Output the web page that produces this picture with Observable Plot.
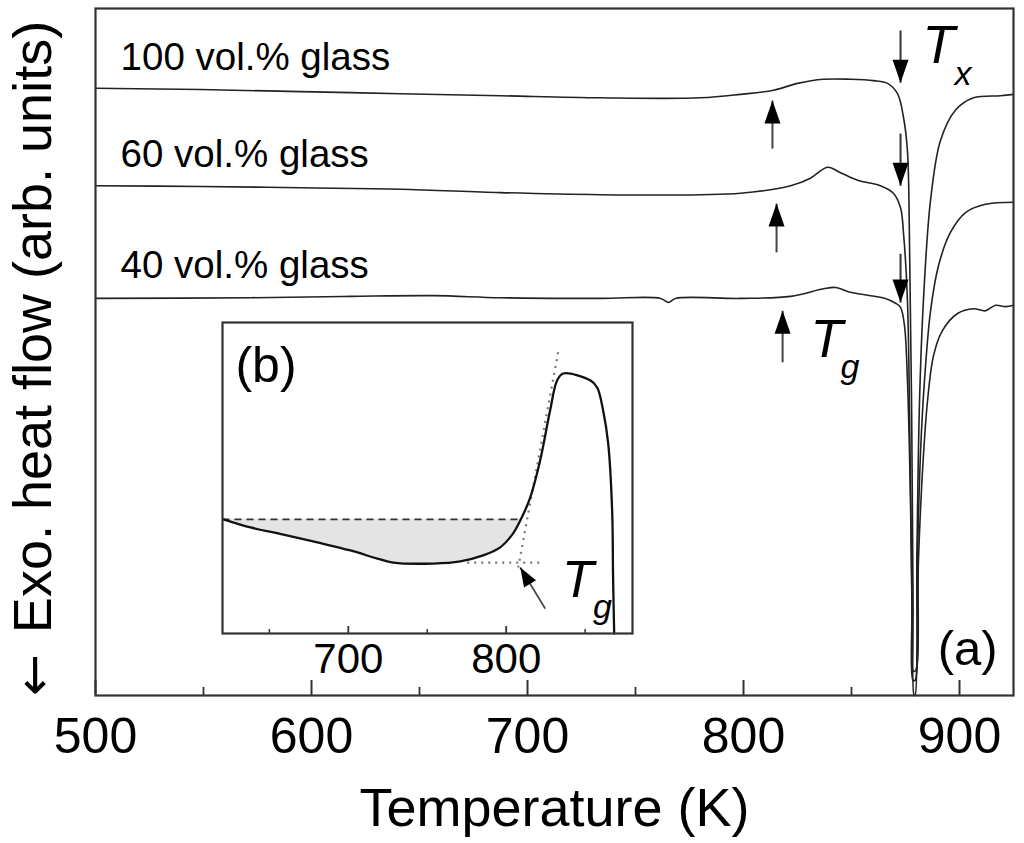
<!DOCTYPE html>
<html><head><meta charset="utf-8">
<script src="https://cdn.jsdelivr.net/npm/d3@7"></script>
<script src="https://cdn.jsdelivr.net/npm/@observablehq/plot@0.6"></script>
<style>
body{margin:0;background:#fff;overflow:hidden;}
#wrap{position:relative;width:1024px;height:843px;}
#main,#inset{position:absolute;}
#main{left:0;top:0;}
#inset{left:210px;top:310px;}
</style></head><body>
<div id="wrap"><div id="main"></div><div id="inset"></div></div>
<script>
// ---------- main panel (a): DSC traces ----------
const temp100 = [500, 548.6, 594.9, 641.2, 687.5, 733.8, 780.1, 798.6, 813.9, 825.0, 837.0, 849.5, 860.2, 866.7, 871.3, 874.1, 875.9, 876.9, 877.8, 878.5, 879.0, 879.4, 880.3, 881.5, 883.3, 886.6, 891.2, 898.1, 906.5, 919.0, 925];
const flow100 = [88.4, 88.2, 87.9, 87.6, 87.3, 87.0, 87.0, 87.5, 88.1, 89.1, 89.7, 89.7, 89.5, 89.1, 87.6, 84.1, 79.3, 64.8, 42.9, 13.8, 0, 0, 21.1, 42.9, 57.5, 72.1, 80.8, 85.2, 87.0, 87.3, 87.5];

const temp60 = [500, 548.6, 594.9, 641.2, 687.5, 733.8, 780.1, 798.6, 821.8, 831.0, 838.9, 844.9, 852.8, 863.4, 869.4, 872.7, 874.1, 875.9, 877.1, 878.0, 878.5, 879.4, 880.6, 882.0, 883.8, 886.6, 890.3, 895.8, 902.8, 912.0, 925];
const flow60 = [74.2, 74.1, 73.9, 73.7, 73.2, 72.9, 72.9, 73.1, 74.2, 75.3, 76.9, 76.1, 75.0, 74.2, 73.1, 71.0, 67.2, 57.5, 35.7, 13.8, 2.2, 2.2, 21.1, 35.7, 45.9, 56.0, 62.6, 67.4, 70.3, 71.5, 71.8];

const temp40 = [500, 571.8, 618.1, 656.5, 687.5, 733.8, 761.6, 765.3, 768.5, 798.6, 821.8, 837.0, 842.6, 849.5, 858.8, 865.7, 870.4, 872.7, 874.5, 875.9, 877.3, 878.2, 878.5, 879.6, 881.0, 882.9, 885.2, 888.0, 892.1, 899.1, 906.5, 912.0, 916.7, 921.3, 925];
const flow40 = [57.8, 57.9, 58.1, 58.2, 57.9, 57.8, 57.8, 57.2, 57.8, 57.8, 58.1, 59.2, 59.4, 58.7, 58.2, 57.8, 57.1, 56.5, 53.9, 45.9, 28.4, 8.0, 3.6, 3.6, 19.7, 32.8, 42.9, 49.5, 53.1, 55.6, 56.3, 56.0, 56.8, 56.6, 56.8];

const seriesNames = ["100 vol.% glass", "60 vol.% glass", "40 vol.% glass"];
const labelTemp = [511.6, 511.6, 511.6];
const labelFlow = [91.0, 77.0, 60.8];

// crystallization (Tx) arrows, pointing down
const txTemp = [872.7, 872.7, 872.7];
const txTail = [96.8, 81.8, 64.3];
const txTip = [89.2, 74.2, 57.2];
// glass transition (Tg) arrows, pointing up
const tgTemp = [813.4, 815.3, 818.1];
const tgTail = [79.6, 64.5, 48.5];
const tgTip = [86.6, 71.6, 56.0];

const mainMajorTicks = [500, 600, 700, 800, 900];
const mainMinorTicks = [550, 650, 750, 850];

// ---------- inset (b): Tg construction ----------
const insetTemp = [620.9, 638.0, 658.9, 680.4, 701.3, 718.4, 728.5, 753.8, 770.9, 785.4, 796.2, 804.4, 808.9, 815.2, 821.5, 827.8, 832.3, 836.1, 853.2, 857.6, 861.4, 864.6, 867.1, 867.7, 868.4];
const insetFlow = [36.7, 34.1, 31.8, 29.3, 26.7, 24.1, 22.8, 22.5, 23.2, 25.1, 27.7, 32.2, 36.3, 43.7, 55.6, 71.7, 81.4, 83.6, 81.4, 79.1, 71.7, 61.1, 39.5, 18.0, 0];
const insetBaseline = 36.7;          // dashed reference level
const insetBaselineEnd = 808.9;      // where dashed line meets the curve
const insetDotH = [775.3, 823.4, 22.8];          // x1, x2, level of dotted horizontal
const insetTangent = [807.6, 21.2, 833.5, 92.0]; // x1, y1, x2, y2 of dotted tangent
const insetArrow = [824.7, 8.0, 808.9, 21.2];    // tail x, tail y, tip x, tip y
const insetMajorTicks = [700, 800];
const insetMinorTicks = [650, 750, 850];

const FONT = "'Liberation Sans', Arial, Helvetica, sans-serif";

const rows = [];
[[temp100, flow100], [temp60, flow60], [temp40, flow40]].forEach(([ts, fs], k) => {
  ts.forEach((t, i) => rows.push({s: seriesNames[k], t, f: fs[i]}));
});
const labels = seriesNames.map((name, i) => ({name, t: labelTemp[i], f: labelFlow[i]}));
const txArrows = txTemp.map((t, i) => ({t, tail: txTail[i], tip: txTip[i]}));
const tgArrows = tgTemp.map((t, i) => ({t, tail: tgTail[i], tip: tgTip[i]}));

// filled arrowhead symbol: tip at the anchor, pointing up
const arrowHead = {draw(ctx) { ctx.moveTo(0, 0); ctx.lineTo(8, 23); ctx.lineTo(-8, 23); ctx.closePath(); }};
const arrowHeadSmall = {draw(ctx) { ctx.moveTo(0, 0); ctx.lineTo(7, 19); ctx.lineTo(-7, 19); ctx.closePath(); }};

const H = 843, MT = 8, MB = 148;
const frameH = H - MT - MB;

const main = Plot.plot({
  width: 1024, height: H,
  marginLeft: 95, marginRight: 11, marginTop: MT, marginBottom: MB,
  style: {fontFamily: FONT, background: "transparent", color: "#000", overflow: "visible"},
  x: {domain: [500, 925], label: null},
  y: {domain: [0, 100], axis: null, label: null},
  marks: [
    Plot.line(rows, {x: "t", y: "f", z: "s", stroke: "#222", strokeWidth: 1.6, curve: "catmull-rom"}),
    Plot.frame({stroke: "#333", strokeWidth: 2.2}),
    Plot.tickX(mainMajorTicks, {x: d => d, insetTop: frameH - 15, stroke: "#333", strokeWidth: 2}),
    Plot.tickX(mainMinorTicks, {x: d => d, insetTop: frameH - 8, stroke: "#333", strokeWidth: 1.8}),
    Plot.axisX({ticks: mainMajorTicks, tickSize: 0, tickPadding: 22, fontSize: 50, label: null, tickFormat: d => String(d)}),
    Plot.text(["Temperature (K)"], {frameAnchor: "bottom", dy: 130, fontSize: 54, lineAnchor: "bottom"}),
    Plot.text(["Exo. heat flow (arb. units)"], {frameAnchor: "left", rotate: -90, dx: -45, dy: -25, fontSize: 54, lineAnchor: "bottom", textAnchor: "middle"}),
    Plot.text(["\u2190"], {frameAnchor: "left", rotate: -90, dx: -45, dy: 323, fontSize: 50, lineAnchor: "bottom", textAnchor: "middle", fontFamily: "'DejaVu Sans', sans-serif"}),
    Plot.text(labels, {x: "t", y: "f", text: "name", textAnchor: "start", lineAnchor: "bottom", fontSize: 38.5}),
    // Tx arrows
    Plot.link(txArrows, {x1: "t", y1: "tail", x2: "t", y2: "tip", stroke: "#333", strokeWidth: 2}),
    Plot.dot(txArrows, {x: "t", y: "tip", symbol: arrowHead, rotate: 180, fill: "#000", stroke: "none", r: 5}),
    // Tg arrows
    Plot.link(tgArrows, {x1: "t", y1: "tail", x2: "t", y2: "tip", stroke: "#444", strokeWidth: 2}),
    Plot.dot(tgArrows, {x: "t", y: "tip", symbol: arrowHead, rotate: 0, fill: "#000", stroke: "none", r: 5}),
    // Tx label
    Plot.text([{t: 882.9, f: 92.0}], {x: "t", y: "f", text: () => "T", fontStyle: "italic", fontSize: 53, textAnchor: "start", lineAnchor: "bottom"}),
    Plot.text([{t: 882.9, f: 92.0}], {x: "t", y: "f", text: () => "x", fontStyle: "italic", fontSize: 34, textAnchor: "start", lineAnchor: "bottom", dx: 32, dy: 22}),
    // Tg label
    Plot.text([{t: 831.0, f: 49.2}], {x: "t", y: "f", text: () => "T", fontStyle: "italic", fontSize: 53, textAnchor: "start", lineAnchor: "bottom"}),
    Plot.text([{t: 831.0, f: 49.2}], {x: "t", y: "f", text: () => "g", fontStyle: "italic", fontSize: 34, textAnchor: "start", lineAnchor: "bottom", dx: 30, dy: 21}),
    // (a)
    Plot.text([{t: 917.6, f: 4.4}], {x: "t", y: "f", text: () => "(a)", textAnchor: "end", lineAnchor: "bottom", fontSize: 49})
  ]
});
document.getElementById("main").appendChild(main);

// ---------- inset ----------
const insetRows = insetTemp.map((t, i) => ({t, f: insetFlow[i]}));
const fillRows = insetRows.filter(d => d.t <= insetBaselineEnd);
const IH = 378, IMT = 12, IMB = 55;
const iFrameH = IH - IMT - IMB;

const inset = Plot.plot({
  width: 434, height: IH,
  marginLeft: 12, marginRight: 12, marginTop: IMT, marginBottom: IMB,
  style: {fontFamily: FONT, background: "transparent", color: "#000", overflow: "visible"},
  x: {domain: [620.3, 880], label: null},
  y: {domain: [0, 100], axis: null, label: null},
  marks: [
    Plot.areaY(fillRows, {x: "t", y1: "f", y2: insetBaseline, fill: "#e4e4e4", curve: "catmull-rom"}),
    Plot.link([{x1: 620.3, x2: insetBaselineEnd, y: insetBaseline}], {x1: "x1", x2: "x2", y1: "y", y2: "y", stroke: "#333", strokeWidth: 1.6, strokeDasharray: "7,5"}),
    Plot.link([{x1: insetDotH[0], x2: insetDotH[1], y: insetDotH[2]}], {x1: "x1", x2: "x2", y1: "y", y2: "y", stroke: "#777", strokeWidth: 2.2, strokeDasharray: "2,5"}),
    Plot.link([{x1: insetTangent[0], y1: insetTangent[1], x2: insetTangent[2], y2: insetTangent[3]}], {x1: "x1", y1: "y1", x2: "x2", y2: "y2", stroke: "#777", strokeWidth: 2.2, strokeDasharray: "2,5"}),
    Plot.line(insetRows, {x: "t", y: "f", stroke: "#111", strokeWidth: 2.3, curve: "catmull-rom"}),
    Plot.frame({stroke: "#333", strokeWidth: 2.2}),
    Plot.tickX(insetMajorTicks, {x: d => d, insetTop: iFrameH - 7, stroke: "#333", strokeWidth: 1.8}),
    Plot.tickX(insetMinorTicks, {x: d => d, insetTop: iFrameH - 4, stroke: "#333", strokeWidth: 1.5}),
    Plot.axisX({ticks: insetMajorTicks, tickSize: 0, tickPadding: 10, fontSize: 42, label: null, tickFormat: d => String(d)}),
    // arrow to Tg
    Plot.link([{x1: insetArrow[0], y1: insetArrow[1], x2: insetArrow[2], y2: insetArrow[3]}], {x1: "x1", y1: "y1", x2: "x2", y2: "y2", stroke: "#444", strokeWidth: 1.8}),
    Plot.dot([{t: insetArrow[2], f: insetArrow[3]}], {x: "t", y: "f", symbol: arrowHeadSmall, rotate: -31, fill: "#000", stroke: "none", r: 5}),
    Plot.text([{t: 835.4, f: 11.6}], {x: "t", y: "f", text: () => "T", fontStyle: "italic", fontSize: 52, textAnchor: "start", lineAnchor: "bottom"}),
    Plot.text([{t: 835.4, f: 11.6}], {x: "t", y: "f", text: () => "g", fontStyle: "italic", fontSize: 34, textAnchor: "start", lineAnchor: "bottom", dx: 31, dy: 21}),
    Plot.text([{t: 628.5, f: 80.9}], {x: "t", y: "f", text: () => "(b)", textAnchor: "start", lineAnchor: "bottom", fontSize: 50})
  ]
});
document.getElementById("inset").appendChild(inset);
</script>
</body></html>
